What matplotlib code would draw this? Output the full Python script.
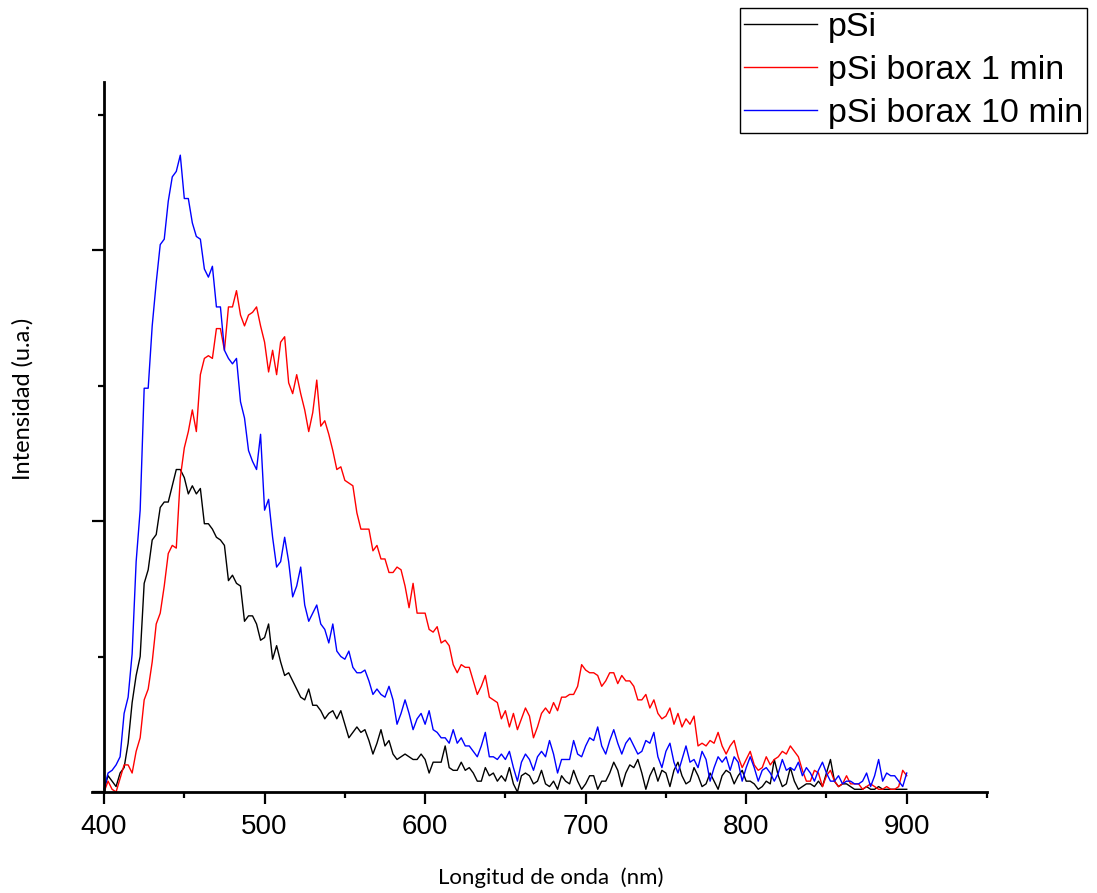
import numpy as np
import matplotlib
matplotlib.use("Agg")
import matplotlib.pyplot as plt
from matplotlib.ticker import MultipleLocator

# intensities (a.u.) on a 5 nm grid (..._a)
# and at the in-between 2.5 nm offsets (..._b)
wl_a = np.arange(400, 901, 5)
wl_b = np.arange(402.5, 900, 5)

psi_a = [
    0.01, 0.04, 0.07, 0.18, 0.43, 0.77, 0.93, 1.05, 1.07, 1.19,
    1.16, 1.13, 1.12, 0.99, 0.94, 0.91, 0.80, 0.76, 0.65, 0.62,
    0.57, 0.49, 0.48, 0.44, 0.38, 0.34, 0.32, 0.30, 0.29, 0.27,
    0.25, 0.22, 0.22, 0.19, 0.18, 0.17, 0.14, 0.13, 0.13, 0.12,
    0.12, 0.11, 0.11, 0.09, 0.08, 0.08, 0.07, 0.04, 0.06, 0.04,
    0.04, 0.03, 0.06, 0.06, 0.04, 0.03, 0.04, 0.06, 0.03, 0.04,
    0.03, 0.06, 0.04, 0.07, 0.08, 0.07, 0.09, 0.07, 0.06, 0.04,
    0.07, 0.08, 0.06, 0.04, 0.06, 0.03, 0.04, 0.06, 0.07, 0.06,
    0.04, 0.03, 0.02, 0.03, 0.06, 0.03, 0.04, 0.02, 0.03, 0.04,
    0.07, 0.04, 0.03, 0.02, 0.01, 0.02, 0.01, 0.01, 0.01, 0.01,
    0.01,
]
psi_b = [
    0.06, 0.02, 0.09, 0.33, 0.50, 0.82, 0.95, 1.07, 1.13, 1.19,
    1.10, 1.10, 0.99, 0.97, 0.93, 0.78, 0.77, 0.63, 0.65, 0.56,
    0.62, 0.54, 0.43, 0.41, 0.35, 0.38, 0.32, 0.27, 0.30, 0.30,
    0.20, 0.24, 0.23, 0.14, 0.23, 0.19, 0.12, 0.14, 0.12, 0.14,
    0.07, 0.11, 0.17, 0.08, 0.11, 0.09, 0.04, 0.09, 0.07, 0.06,
    0.09, 0.00, 0.07, 0.03, 0.08, 0.02, 0.01, 0.04, 0.08, 0.01,
    0.06, 0.01, 0.04, 0.11, 0.02, 0.10, 0.12, 0.01, 0.09, 0.08,
    0.02, 0.11, 0.03, 0.09, 0.02, 0.07, 0.01, 0.08, 0.03, 0.08,
    0.04, 0.01, 0.04, 0.12, 0.02, 0.09, 0.01, 0.03, 0.02, 0.02,
    0.12, 0.02, 0.03, 0.01, 0.01, 0.01, 0.02, 0.01, 0.01, 0.01,
]

borax1_a = [
    0.00, 0.01, 0.05, 0.10, 0.15, 0.34, 0.48, 0.66, 0.88, 0.90,
    1.27, 1.41, 1.54, 1.61, 1.71, 1.63, 1.79, 1.76, 1.76, 1.79,
    1.66, 1.63, 1.66, 1.51, 1.54, 1.41, 1.40, 1.35, 1.32, 1.19,
    1.15, 1.13, 0.97, 0.97, 0.91, 0.86, 0.81, 0.82, 0.68, 0.66,
    0.66, 0.59, 0.55, 0.54, 0.44, 0.46, 0.41, 0.39, 0.35, 0.33,
    0.30, 0.29, 0.27, 0.28, 0.24, 0.31, 0.33, 0.35, 0.36, 0.39,
    0.45, 0.44, 0.39, 0.44, 0.40, 0.41, 0.39, 0.34, 0.31, 0.29,
    0.28, 0.25, 0.24, 0.25, 0.17, 0.17, 0.18, 0.17, 0.17, 0.13,
    0.12, 0.10, 0.09, 0.10, 0.13, 0.14, 0.15, 0.08, 0.04, 0.07,
    0.06, 0.04, 0.03, 0.03, 0.03, 0.02, 0.02, 0.01, 0.01, 0.02,
    0.06,
]
borax1_b = [
    0.04, 0.00, 0.10, 0.07, 0.20, 0.38, 0.62, 0.76, 0.91, 1.16,
    1.33, 1.33, 1.60, 1.60, 1.71, 1.79, 1.85, 1.72, 1.77, 1.72,
    1.55, 1.54, 1.68, 1.47, 1.47, 1.33, 1.52, 1.37, 1.26, 1.20,
    1.14, 1.03, 0.97, 0.89, 0.86, 0.81, 0.83, 0.76, 0.77, 0.66,
    0.60, 0.61, 0.56, 0.47, 0.47, 0.46, 0.36, 0.43, 0.34, 0.27,
    0.24, 0.23, 0.31, 0.20, 0.29, 0.29, 0.30, 0.35, 0.36, 0.47,
    0.44, 0.43, 0.41, 0.44, 0.43, 0.41, 0.34, 0.36, 0.34, 0.27,
    0.31, 0.29, 0.27, 0.28, 0.18, 0.19, 0.22, 0.14, 0.19, 0.09,
    0.15, 0.08, 0.13, 0.12, 0.15, 0.17, 0.13, 0.04, 0.08, 0.02,
    0.08, 0.02, 0.06, 0.03, 0.01, 0.03, 0.01, 0.02, 0.01, 0.08,
]

borax10_a = [
    0.01, 0.08, 0.13, 0.35, 0.85, 1.49, 1.72, 2.02, 2.18, 2.29,
    2.19, 2.10, 2.04, 1.90, 1.79, 1.63, 1.58, 1.44, 1.26, 1.19,
    1.04, 0.94, 0.85, 0.85, 0.76, 0.69, 0.66, 0.62, 0.55, 0.52,
    0.49, 0.46, 0.44, 0.41, 0.38, 0.35, 0.34, 0.29, 0.29, 0.27,
    0.25, 0.23, 0.20, 0.18, 0.18, 0.17, 0.15, 0.17, 0.13, 0.12,
    0.12, 0.09, 0.11, 0.12, 0.13, 0.13, 0.14, 0.12, 0.12, 0.14,
    0.17, 0.19, 0.17, 0.19, 0.18, 0.18, 0.17, 0.15, 0.18, 0.13,
    0.15, 0.11, 0.12, 0.11, 0.09, 0.12, 0.09, 0.11, 0.08, 0.11,
    0.09, 0.09, 0.08, 0.07, 0.07, 0.08, 0.08, 0.06, 0.07, 0.08,
    0.07, 0.04, 0.03, 0.04, 0.03, 0.07, 0.06, 0.04, 0.06, 0.04,
    0.07,
]
borax10_b = [
    0.07, 0.10, 0.29, 0.51, 1.04, 1.49, 1.88, 2.04, 2.27, 2.35,
    2.19, 2.05, 1.93, 1.94, 1.79, 1.60, 1.60, 1.38, 1.22, 1.32,
    1.08, 0.83, 0.94, 0.72, 0.83, 0.63, 0.69, 0.60, 0.62, 0.50,
    0.52, 0.44, 0.45, 0.36, 0.36, 0.39, 0.25, 0.34, 0.23, 0.29,
    0.30, 0.22, 0.20, 0.23, 0.20, 0.17, 0.13, 0.22, 0.13, 0.14,
    0.15, 0.04, 0.14, 0.08, 0.15, 0.19, 0.07, 0.12, 0.19, 0.13,
    0.20, 0.24, 0.14, 0.23, 0.14, 0.20, 0.14, 0.19, 0.22, 0.09,
    0.18, 0.07, 0.17, 0.12, 0.15, 0.04, 0.13, 0.13, 0.13, 0.04,
    0.13, 0.04, 0.09, 0.04, 0.12, 0.09, 0.11, 0.09, 0.04, 0.11,
    0.04, 0.06, 0.04, 0.03, 0.04, 0.02, 0.12, 0.07, 0.06, 0.02,
]

labels = ["pSi", "pSi borax 1 min", "pSi borax 10 min"]
colors = ["black", "red", "blue"]


def merge(a, b):
    x = np.concatenate([wl_a, wl_b])
    y = np.concatenate([a, b])
    order = np.argsort(x)
    return x[order], y[order]


fig = plt.figure(figsize=(10.97, 8.93), dpi=100)
ax = fig.add_axes([92 / 1097, 1 - 792 / 893, (987 - 92) / 1097, (792 - 82) / 893])

for (a, b), lab, c in zip([(psi_a, psi_b), (borax1_a, borax1_b), (borax10_a, borax10_b)],
                          labels, colors):
    x, y = merge(a, b)
    ax.plot(x, y, color=c, lw=1.0, label=lab)

ax.set_xlim(392.5, 950)
ax.set_ylim(0, 2.62)
ax.spines["left"].set_position(("data", 400))
for s in ["top", "right"]:
    ax.spines[s].set_visible(False)
for s in ["left", "bottom"]:
    ax.spines[s].set_linewidth(2.0)

ax.set_xticks(range(400, 901, 100))
ax.set_xticks(range(450, 951, 100), minor=True)
ax.yaxis.set_major_locator(MultipleLocator(1))
ax.yaxis.set_minor_locator(MultipleLocator(0.5))
ax.tick_params(axis="both", which="major", direction="out", length=8.5, width=1.6)
ax.tick_params(axis="both", which="minor", direction="out", length=4.5, width=1.6)
ax.tick_params(axis="y", which="both", labelleft=False)
ax.tick_params(axis="x", which="major", labelsize=20, pad=7)
for t in ax.get_xticklabels():
    t.set_family("Liberation Sans")

fig.text(551 / 1097, 1 - 878 / 893, "Longitud de onda  (nm)", family="Lato",
         fontsize=16, ha="center", va="center")
fig.text(23 / 1097, 1 - 399 / 893, "Intensidad (u.a.)", family="Lato",
         fontsize=17, ha="center", va="center", rotation=90)

leg = fig.legend(loc="upper right", bbox_to_anchor=(1087 / 1097, 1 - 8 / 893),
                 frameon=True, fancybox=False, edgecolor="black", framealpha=1,
                 prop={"family": "Liberation Sans", "size": 24.5},
                 handlelength=2.15, handletextpad=0.3, labelspacing=0.35,
                 borderpad=0.12, borderaxespad=0)
leg.get_frame().set_linewidth(1.0)

fig.savefig("out.png", dpi=100)
